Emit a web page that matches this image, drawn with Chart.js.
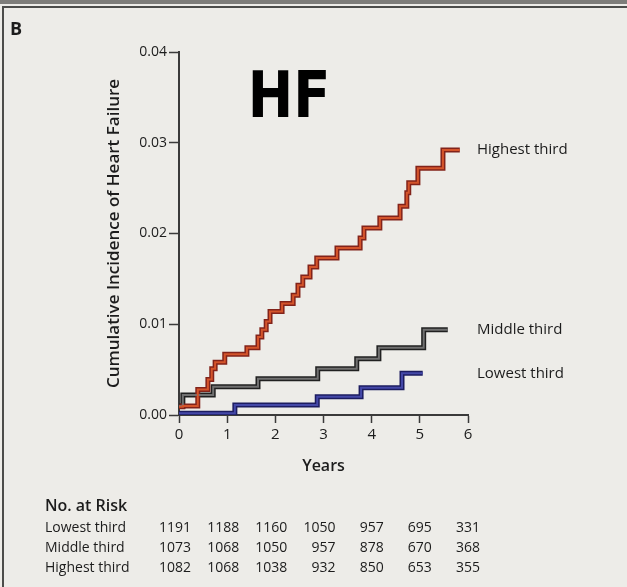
<!DOCTYPE html>
<html>
<head>
<meta charset="utf-8">
<title>HF - Cumulative Incidence of Heart Failure</title>
<script src="https://cdn.jsdelivr.net/npm/chart.js@4.4.1/dist/chart.umd.min.js"></script>
<style>
    html, body { margin: 0; padding: 0; overflow: hidden; }
    body { width: 627px; height: 587px; background: #edece8; position: relative; }
    .topband { position: absolute; left: 0; top: 0; width: 627px; height: 4px; background: #7e7d7a; }
    .frame { position: absolute; left: 2px; top: 6px; width: 700px; height: 700px; border-left: 2px solid #4c4c4a; border-top: 2px solid #4c4c4a; }
    .wrap { position: absolute; left: 0; top: 0; width: 627px; height: 587px; }
</style>
</head>
<body>
<div class="topband"></div>
<div class="frame"></div>
<div class="wrap"><canvas id="kmChart"></canvas></div>
<script>
// step points of each curve (years, cumulative incidence)
const highestYears = [0, 0.08, 0.39, 0.6, 0.68, 0.75, 0.95, 1.41, 1.64, 1.72, 1.81, 1.89, 2.14, 2.37, 2.47, 2.57, 2.72, 2.86, 3.28, 3.76, 3.84, 4.17, 4.59, 4.73, 4.77, 4.96, 5.48, 5.83];
const highestInc = [0.0009, 0.0010, 0.0028, 0.0039, 0.0051, 0.0058, 0.0067, 0.0074, 0.0086, 0.0094, 0.0103, 0.0114, 0.0123, 0.0132, 0.0143, 0.0152, 0.0163, 0.0173, 0.0184, 0.0195, 0.0206, 0.0217, 0.0230, 0.0245, 0.0256, 0.0272, 0.0292, 0.0292];

const middleYears = [0, 0.08, 0.71, 1.64, 2.88, 3.69, 4.15, 5.08, 5.58];
const middleInc = [0.0010, 0.0022, 0.0031, 0.0040, 0.0051, 0.0062, 0.0074, 0.0094, 0.0094];

const lowestYears = [0, 1.16, 2.87, 3.78, 4.63, 5.06];
const lowestInc = [0.0002, 0.0011, 0.0020, 0.0030, 0.0046, 0.0046];

const groupNames = ['Highest third', 'Middle third', 'Lowest third'];
const yTicks = [0, 0.01, 0.02, 0.03, 0.04];
const xTicks = [0, 1, 2, 3, 4, 5, 6];

// number at risk table
const riskRows = ['Lowest third', 'Middle third', 'Highest third'];
const riskLowest = [1191, 1188, 1160, 1050, 957, 695, 331];
const riskMiddle = [1073, 1068, 1050, 957, 878, 670, 368];
const riskHighest = [1082, 1068, 1038, 932, 850, 653, 355];

const INK = '#1c1c1c';
const FONT = '"Open Sans", Lato, sans-serif';

function pts(xs, ys) {
    return xs.map(function(x, i) { return { x: x, y: ys[i] }; });
}

function curve(label, data, color, width, order) {
    return {
        label: label,
        data: data,
        borderColor: color,
        borderWidth: width,
        stepped: 'before',
        pointRadius: 0,
        fill: false,
        borderCapStyle: 'butt',
        borderJoinStyle: 'miter',
        order: order
    };
}

// labels at the end of the curves, the HF mark, and the risk table
const annotations = {
    id: 'annotations',
    afterDraw: function(chart) {
        const ctx = chart.ctx;
        const xs = chart.scales.x;
        const ys = chart.scales.y;
        ctx.save();
        ctx.fillStyle = INK;

        ctx.font = 'bold 18px ' + FONT;
        ctx.textAlign = 'left';
        ctx.textBaseline = 'middle';
        ctx.fillText('B', 10, 30);

        // handwritten-looking mark, a bit condensed
        ctx.save();
        ctx.translate(289, 117);
        ctx.scale(0.85, 1);
        ctx.font = 'bold 64px "DejaVu Sans", sans-serif';
        ctx.textAlign = 'center';
        ctx.textBaseline = 'alphabetic';
        ctx.fillStyle = '#000';
        ctx.fillText('HF', 0, 0);
        ctx.restore();

        ctx.font = '15px ' + FONT;
        ctx.textAlign = 'left';
        const ends = [highestInc, middleInc, lowestInc];
        ends.forEach(function(vals, i) {
            const y = ys.getPixelForValue(vals[vals.length - 1]);
            ctx.fillText(groupNames[i], chart.chartArea.right + 9, y);
        });

        ctx.font = '600 16px ' + FONT;
        ctx.fillText('No. at Risk', 45, 506);
        ctx.font = '14px ' + FONT;
        const rows = [riskLowest, riskMiddle, riskHighest];
        rows.forEach(function(vals, r) {
            const y = 528 + r * 20;
            ctx.textAlign = 'left';
            ctx.fillText(riskRows[r], 45, y);
            ctx.textAlign = 'right';
            vals.forEach(function(v, c) {
                ctx.fillText(String(v), xs.getPixelForValue(xTicks[c]) + 12, y);
            });
        });
        ctx.restore();
    }
};

const chartCanvas = document.getElementById('kmChart');
new Chart(chartCanvas.getContext('2d'), {
    type: 'line',
    data: {
        datasets: [
            curve(groupNames[0], pts(highestYears, highestInc), '#d4542b', 2, 0),
            curve(groupNames[0], pts(highestYears, highestInc), '#82231a', 5, 1),
            curve(groupNames[1], pts(middleYears, middleInc), '#707070', 2, 0),
            curve(groupNames[1], pts(middleYears, middleInc), '#202020', 5, 1),
            curve(groupNames[2], pts(lowestYears, lowestInc), '#4448a8', 2, 0),
            curve(groupNames[2], pts(lowestYears, lowestInc), '#1c1c60', 5, 1)
        ]
    },
    options: {
        responsive: true,
        maintainAspectRatio: false,
        animation: false,
        layout: {
            padding: { left: 100, top: 52, right: 159, bottom: 107 }
        },
        plugins: {
            legend: { display: false },
            tooltip: { enabled: false }
        },
        scales: {
            x: {
                type: 'linear',
                min: 0,
                max: 6,
                afterFit: function(scale) { scale.height = 65; },
                afterBuildTicks: function(scale) {
                    scale.ticks = xTicks.map(function(v) { return { value: v }; });
                },
                ticks: {
                    color: INK,
                    padding: 3,
                    font: { family: FONT, size: 15 }
                },
                grid: {
                    drawOnChartArea: false,
                    tickLength: 8,
                    tickWidth: 1.5,
                    color: '#3a3a3a'
                },
                border: { color: '#3a3a3a', width: 2 },
                title: {
                    display: true,
                    text: 'Years',
                    color: INK,
                    font: { family: FONT, size: 16, weight: '600' }
                }
            },
            y: {
                min: 0,
                max: 0.04,
                afterFit: function(scale) { scale.width = 79; },
                afterBuildTicks: function(scale) {
                    scale.ticks = yTicks.map(function(v) { return { value: v }; });
                },
                ticks: {
                    color: INK,
                    padding: 2,
                    font: { family: FONT, size: 14 },
                    callback: function(value) { return value.toFixed(2); }
                },
                grid: {
                    drawOnChartArea: false,
                    tickLength: 10,
                    tickWidth: 1.5,
                    color: '#3a3a3a'
                },
                border: { color: '#3a3a3a', width: 2 },
                title: {
                    display: true,
                    text: 'Cumulative Incidence of Heart Failure',
                    color: INK,
                    font: { family: FONT, size: 17, weight: '600' }
                }
            }
        }
    },
    plugins: [annotations]
});
</script>
</body>
</html>
